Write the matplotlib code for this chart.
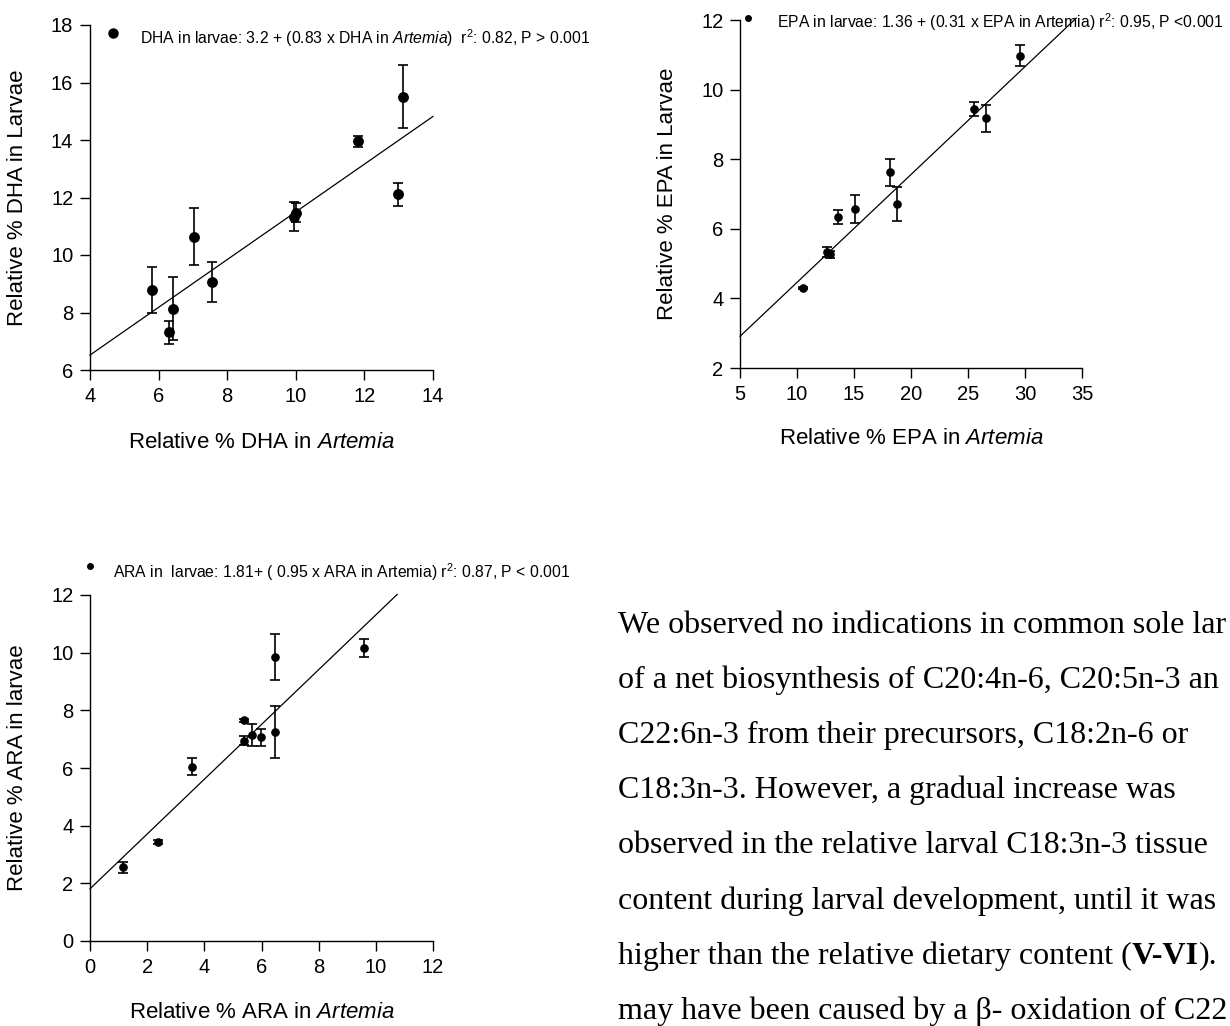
import matplotlib
matplotlib.use("Agg")
import matplotlib.pyplot as plt
import numpy as np

plt.rcParams['font.family'] = ['Liberation Sans', 'DejaVu Sans']
plt.rcParams['mathtext.fontset'] = 'custom'
plt.rcParams['mathtext.rm'] = 'Liberation Sans'
plt.rcParams['mathtext.it'] = 'Liberation Sans:italic'
plt.rcParams['mathtext.bf'] = 'Liberation Sans:bold'

# ---------------- data ----------------
dha_artemia = [5.80, 6.31, 6.42, 7.04, 7.57, 9.96, 10.02, 11.81, 12.98, 13.13]
dha_larvae = [8.78, 7.31, 8.13, 10.64, 9.05, 11.33, 11.47, 13.95, 12.12, 15.51]
dha_err = [0.80, 0.40, 1.10, 1.00, 0.70, 0.50, 0.33, 0.20, 0.40, 1.10]
dha_fit = (3.2, 0.83)

epa_artemia = [10.5, 12.67, 12.9, 13.63, 15.12, 18.2, 18.81, 25.49, 26.57, 29.6]
epa_larvae = [4.29, 5.34, 5.27, 6.33, 6.58, 7.62, 6.71, 9.43, 9.17, 10.97]
epa_err = [0.03, 0.15, 0.10, 0.20, 0.40, 0.40, 0.50, 0.20, 0.40, 0.30]
epa_fit = (1.36, 0.31)

ara_artemia = [1.17, 2.38, 3.57, 5.38, 5.38, 5.67, 5.98, 6.48, 6.48, 9.57]
ara_larvae = [2.55, 3.44, 6.05, 7.66, 6.95, 7.15, 7.06, 9.84, 7.25, 10.16]
ara_err = [0.20, 0.07, 0.30, 0.05, 0.15, 0.38, 0.30, 0.80, 0.90, 0.30]
ara_fit = (1.81, 0.95)

dha_label = r"DHA in larvae: 3.2 + (0.83 x DHA in $\it{Artemia}$)  r$^{2}$: 0.82, P > 0.001"
epa_label = r"EPA in larvae: 1.36 + (0.31 x EPA in Artemia) r$^{2}$: 0.95, P <0.001"
ara_label = r"ARA in  larvae: 1.81+ ( 0.95 x ARA in Artemia) r$^{2}$: 0.87, P < 0.001"

# body text as visible in the reference (cut at the right edge)
text_lines = [
    "We observed no indications in common sole lar",
    "of a net biosynthesis of C20:4n-6, C20:5n-3 an",
    "C22:6n-3 from their precursors, C18:2n-6 or",
    "C18:3n-3. However, a gradual increase was",
    "observed in the relative larval C18:3n-3 tissue",
    "content during larval development, until it was",
    None,
    "may have been caused by a \u03b2- oxidation of C22",
]
line7 = ("higher than the relative dietary content (", "V-VI", ").")

W, H = 1230, 1026
fig = plt.figure(figsize=(W / 100, H / 100), dpi=100)

TICK_FS = 14.5
LAB_FS = 16
LEG_FS = 11.3


def rect(x0, y0, x1, y1):
    return [x0 / W, 1 - y1 / H, (x1 - x0) / W, (y1 - y0) / H]


def style(ax):
    for s in ['top', 'right']:
        ax.spines[s].set_visible(False)
    for s in ['left', 'bottom']:
        ax.spines[s].set_linewidth(1.0)
        ax.spines[s].set_color('black')
    ax.tick_params(direction='out', length=7, width=1.0, labelsize=TICK_FS, pad=5)


def panel(ax, x, y, e, fit, xr, ms, cap):
    ax.errorbar(x, y, yerr=e, fmt='o', color='black', ms=ms, capsize=cap,
                elinewidth=1.2, capthick=1.2, zorder=3)
    xx = np.array(xr)
    ax.plot(xx, fit[0] + fit[1] * xx, color='black', lw=0.9, clip_on=False)


def labels(ax, xl, yl, xpos, ypos):
    ax.set_xlabel(xl, fontsize=LAB_FS)
    ax.set_ylabel(yl, fontsize=LAB_FS)
    ax.xaxis.set_label_coords(0.5, ypos)
    ax.yaxis.set_label_coords(xpos, 0.5)
    ax.xaxis.label.set_va('center')
    ax.yaxis.label.set_va('center')


# Panel DHA
ax1 = fig.add_axes(rect(90, 25, 433, 370))
style(ax1)
panel(ax1, dha_artemia, dha_larvae, dha_err, dha_fit, [4, 14], 6.8, 3.5)
ax1.set_xlim(4, 14)
ax1.set_ylim(6, 18)
ax1.set_xticks(np.arange(4, 15, 2))
ax1.set_yticks(np.arange(6, 19, 2))
labels(ax1, r"Relative % DHA in $\it{Artemia}$", "Relative % DHA in Larvae",
       (18 - 90) / 343, (370 - 443) / 345)
fig.lines.append(plt.Line2D([113 / W], [1 - 33 / H], marker='o', ms=6.5,
                            color='black', transform=fig.transFigure))
fig.text(140 / W, 1 - 38 / H, dha_label, fontsize=LEG_FS, va='center', ha='left')

# Panel EPA
ax2 = fig.add_axes(rect(740, 20, 1082, 368))
style(ax2)
panel(ax2, epa_artemia, epa_larvae, epa_err, epa_fit, [5, 34.5], 5.2, 3.5)
ax2.set_xlim(5, 35)
ax2.set_ylim(2, 12)
ax2.set_xticks(np.arange(5, 36, 5))
ax2.set_yticks(np.arange(2, 13, 2))
labels(ax2, r"Relative % EPA in $\it{Artemia}$", "Relative % EPA in Larvae",
       (667 - 740) / 342, (368 - 439) / 348)
fig.lines.append(plt.Line2D([748 / W], [1 - 18 / H], marker='o', ms=4,
                            color='black', transform=fig.transFigure))
fig.text(777 / W, 1 - 22 / H, epa_label, fontsize=LEG_FS, va='center', ha='left')

# Panel ARA
ax3 = fig.add_axes(rect(90, 595, 433, 941))
style(ax3)
panel(ax3, ara_artemia, ara_larvae, ara_err, ara_fit, [0, 10.75], 5.2, 3.5)
ax3.set_xlim(0, 12)
ax3.set_ylim(0, 12)
ax3.set_xticks(np.arange(0, 13, 2))
ax3.set_yticks(np.arange(0, 13, 2))
labels(ax3, r"Relative % ARA in $\it{Artemia}$", "Relative % ARA in larvae",
       (18 - 90) / 343, (941 - 1013) / 346)
fig.lines.append(plt.Line2D([90 / W], [1 - 566 / H], marker='o', ms=4,
                            color='black', transform=fig.transFigure))
fig.text(113 / W, 1 - 572 / H, ara_label, fontsize=LEG_FS, va='center', ha='left')

# Body text
serif = ['Liberation Serif', 'DejaVu Serif']
tx0 = 618 / W
fs_body = 23
for i, ln in enumerate(text_lines):
    yb = 1 - (633 + 55.1 * i) / H
    if ln is not None:
        fig.text(tx0, yb, ln, family=serif, fontsize=fs_body, va='baseline', ha='left')
    else:
        t1 = fig.text(tx0, yb, line7[0], family=serif, fontsize=fs_body,
                      va='baseline', ha='left')
        a2 = plt.annotate(line7[1], xy=(1, 0), xycoords=t1, va='bottom', ha='left',
                          family=serif, fontsize=fs_body, fontweight='bold',
                          annotation_clip=False)
        plt.annotate(line7[2], xy=(1, 0), xycoords=a2, va='bottom', ha='left',
                     family=serif, fontsize=fs_body, annotation_clip=False)

fig.savefig("out.png", dpi=100)
